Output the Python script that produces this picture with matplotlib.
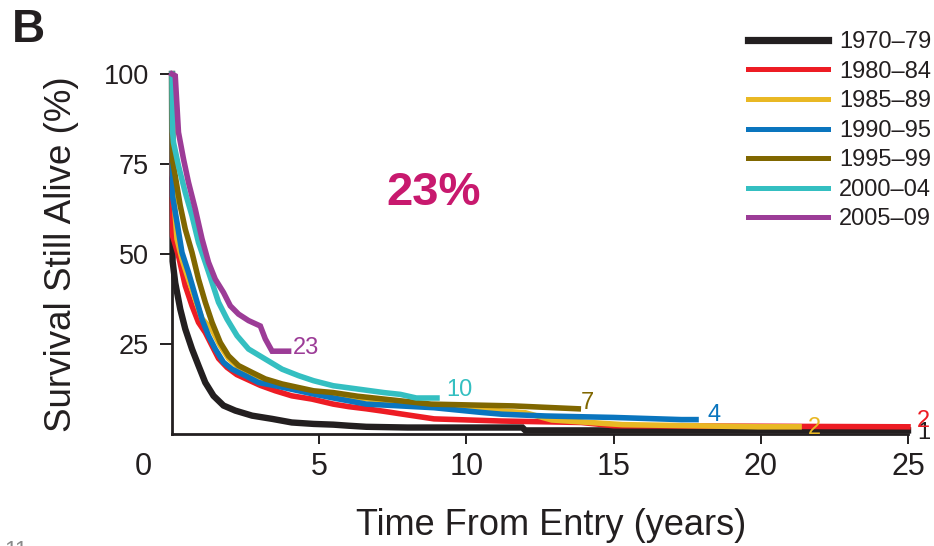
import matplotlib
matplotlib.use("Agg")
import matplotlib.pyplot as plt
from matplotlib.lines import Line2D

# Kaplan-Meier style survival by period of entry (time in years, survival in %)
periods = ["1970\u201379", "1980\u201384", "1985\u201389", "1990\u201395",
           "1995\u201399", "2000\u201304", "2005\u201309"]
colors = ["#231F20", "#ED1C24", "#E9B824", "#0A75BE", "#806700", "#34BFC1", "#9C3C97"]

t_7079 = [0, 0.02, 0.11, 0.28, 0.45, 0.68, 0.9, 1.13, 1.41, 1.75, 2.15, 2.72, 3.4,
          4.07, 4.81, 5.48, 6.0, 6.6, 8.0, 11.9, 12.0, 25]
s_7079 = [100, 48, 42, 34.7, 29.2, 23.6, 19, 14.3, 10.6, 7.9, 6.5, 5.1, 4.2,
          3.2, 2.8, 2.6, 2.3, 2.0, 1.8, 1.8, 1.0, 1.0]

t_8084 = [0, 0.02, 0.22, 0.45, 0.68, 0.9, 1.13, 1.36, 1.58, 1.87, 2.2, 2.6, 3.0, 3.51,
          4.07, 4.75, 5.48, 6.0, 6.6, 7.2, 7.76, 8.9, 11.2, 13.9, 15.0, 25]
s_8084 = [100, 55, 49.5, 41.2, 35.6, 31, 28.2, 24.5, 21, 18.5, 16.5, 15, 13.5, 12,
          10.6, 9.7, 8.3, 7.6, 7, 6.3, 5.6, 4.2, 3.6, 3.2, 2.3, 2]

t_8589 = [0, 0.02, 0.05, 0.11, 0.17, 0.34, 0.56, 0.79, 1.02, 1.36, 1.64, 1.92, 2.26,
          2.72, 3.17, 3.74, 4.3, 4.81, 5.48, 7.2, 8.9, 12.0, 12.9, 15.3, 19.9, 21.3]
s_8589 = [100, 72, 68, 60.6, 54.2, 48.6, 43, 37.5, 32, 29, 24.5, 21, 18.5,
          16.3, 14.6, 13.2, 12.3, 11.4, 10.9, 9.2, 7.8, 5.9, 3.9, 2.6, 2, 2]

t_9095 = [0, 0.02, 0.17, 0.34, 0.56, 0.79, 1.02, 1.24, 1.47, 1.75, 2.04, 2.49, 2.94,
          3.51, 4.3, 4.81, 5.48, 6.6, 7.76, 8.9, 10.5, 11.2, 12.7, 15.0, 17.3, 17.8]
s_9095 = [100, 66, 58.8, 50.4, 44.9, 38.4, 31.9, 27.3, 23.6, 19.9, 18, 16.2, 14.3,
          13.4, 12, 11.1, 10, 8.3, 7.8, 7.3, 6, 5.5, 5, 4.6, 4, 4]

t_9599 = [0, 0.02, 0.11, 0.28, 0.45, 0.68, 0.9, 1.13, 1.36, 1.64, 1.92, 2.26, 2.72,
          3.17, 3.74, 4.3, 4.81, 5.48, 6.3, 7.2, 8.8, 11.6, 13.8]
s_9599 = [100, 76, 71.7, 63.4, 56.9, 50.4, 43, 36.6, 31, 25.4, 21.7, 19, 17.1,
          15.3, 13.9, 12.9, 12, 11.5, 10.5, 9.7, 8.3, 7.8, 7]

t_0004 = [0, 0.02, 0.05, 0.22, 0.45, 0.68, 0.9, 1.13, 1.36, 1.58, 1.87, 2.21, 2.6,
          3.17, 3.74, 4.3, 4.81, 5.48, 6.3, 7.2, 7.76, 8.3, 9.0]
s_0004 = [100, 84, 81, 74.5, 67.1, 60.6, 53.2, 47.7, 42.1, 36.6, 31.9, 27.3, 23.6,
          20.8, 18, 16.2, 14.8, 13.4, 12.5, 11.5, 11, 10, 10]

t_0509 = [0, 0.11, 0.22, 0.39, 0.56, 0.79, 1.02, 1.24, 1.47, 1.75, 1.98, 2.26, 2.6,
          3.0, 3.17, 3.4, 3.96]
s_0509 = [100, 99.5, 83.8, 76.4, 69.9, 62.5, 54.2, 47.7, 43, 39.3, 35.6, 33.3, 31.5,
          30, 26.4, 23, 23]

times = [t_7079, t_8084, t_8589, t_9095, t_9599, t_0004, t_0509]
surv = [s_7079, s_8084, s_8589, s_9095, s_9599, s_0004, s_0509]

# value printed at the end of each curve, with its anchor position
end_labels = ["1", "2", "2", "4", "7", "10", "23"]
label_xy = [(25.3, 0.2), (25.3, 3.6), (21.6, 1.8), (18.2, 5.4), (13.9, 8.6), (9.3, 12.2), (4.1, 24.0)]

plt.rcParams["font.family"] = ["Liberation Sans", "DejaVu Sans"]
ink = "#231F20"

fig = plt.figure(figsize=(9.34, 5.46), dpi=100)
ax = fig.add_axes([172 / 934, 1 - 434 / 546, 736 / 934, 360 / 546])

for i in range(len(periods)):
    lw = 4.6 if i == 0 else 4.0
    ax.plot(times[i], surv[i], color=colors[i], lw=lw,
            solid_joinstyle="miter", clip_on=False, zorder=3 + i)
    lx, ly = label_xy[i]
    ax.text(lx, ly, end_labels[i], color=colors[i], fontsize=17,
            ha="left", va="center", zorder=20)

ax.text(8.87, 67, "23%", color="#C8196E", fontsize=34, fontweight="bold",
        ha="center", va="center")

ax.set_xlim(0, 25)
ax.set_ylim(0, 100)
ax.set_xticks([5, 10, 15, 20, 25])
ax.set_yticks([25, 50, 75, 100])
ax.tick_params(axis="both", direction="out", width=1.4, color=ink, labelcolor=ink)
ax.tick_params(axis="y", length=8.5, labelsize=19.5, pad=8)
ax.tick_params(axis="x", length=7, labelsize=22, pad=6)
ax.text(-0.98, -0.05, "0", transform=ax.get_xaxis_transform(), fontsize=22,
        color=ink, ha="center", va="top")

for side in ["top", "right"]:
    ax.spines[side].set_visible(False)
for side in ["left", "bottom"]:
    ax.spines[side].set_linewidth(2)
    ax.spines[side].set_color(ink)

ax.set_xlabel("Time From Entry (years)", fontsize=26, color=ink, labelpad=18)
ax.xaxis.set_label_coords(0.515, -0.205)
ax.set_ylabel("Survival Still Alive (%)", fontsize=26.5, color=ink, labelpad=18)

handles = [Line2D([], [], color=c, lw=(5.2 if i == 0 else 3.6))
           for i, c in enumerate(colors)]
fig.legend(handles, periods, loc="upper right", bbox_to_anchor=(0.997, 0.943),
           bbox_transform=fig.transFigure, frameon=False, fontsize=17,
           handlelength=3.4, handletextpad=0.45, labelspacing=0.32,
           borderpad=0, borderaxespad=0, labelcolor=ink)

fig.text(12 / 934, 1 - 30 / 546, "B", fontsize=33, fontweight="bold",
         color=ink, ha="left", va="center")
fig.text(4 / 934, -4 / 546, "11", fontsize=16, color="#8A8A8A", ha="left", va="center")

fig.savefig("out.png", dpi=100)
